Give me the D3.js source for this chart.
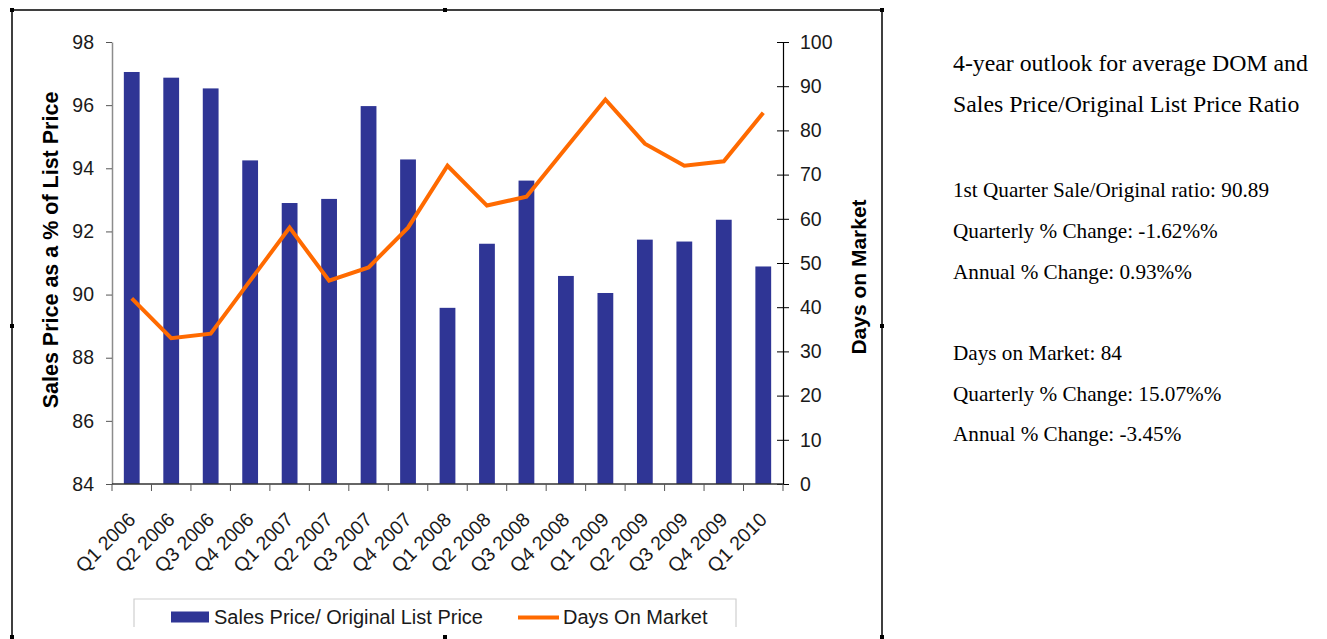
<!DOCTYPE html>
<html>
<head>
<meta charset="utf-8">
<script src="https://cdn.jsdelivr.net/npm/d3@7/dist/d3.min.js"></script>
<style>
  body { margin: 0; background: #fff; }
  svg { display: block; }
</style>
</head>
<body>
<div id="chart"></div>
<script>
var quarters = ['Q1 2006', 'Q2 2006', 'Q3 2006', 'Q4 2006', 'Q1 2007', 'Q2 2007', 'Q3 2007', 'Q4 2007',
  'Q1 2008', 'Q2 2008', 'Q3 2008', 'Q4 2008', 'Q1 2009', 'Q2 2009', 'Q3 2009', 'Q4 2009', 'Q1 2010'];
var priceRatio = [97.05, 96.87, 96.53, 94.25, 92.9, 93.03, 95.97, 94.28,
  89.58, 91.61, 93.61, 90.59, 90.05, 91.74, 91.68, 92.37, 90.89];
var daysOnMarket = [42, 33, 34, 46, 58, 46, 49, 58, 72, 63, 65, 76, 87, 77, 72, 73, 84];
var leftTicks = [84, 86, 88, 90, 92, 94, 96, 98];
var rightTicks = [0, 10, 20, 30, 40, 50, 60, 70, 80, 90, 100];
var seriesNames = ['Sales Price/ Original List Price', 'Days On Market'];
var sideTitle = ['4-year outlook for average DOM and', 'Sales Price/Original List Price Ratio'];
var sideLines = [
  ['1st Quarter Sale/Original ratio: 90.89', 'Quarterly % Change: -1.62%%', 'Annual % Change: 0.93%%'],
  ['Days on Market: 84', 'Quarterly % Change: 15.07%%', 'Annual % Change: -3.45%']
];

var W = 1327, H = 639;
var sans = '"Liberation Sans", Arial, sans-serif';
var serif = '"Liberation Serif", "Times New Roman", serif';
var blue = '#2f3595', orange = '#ff6a00';

var svg = d3.select('#chart').append('svg').attr('width', W).attr('height', H);

// frame round the chart object, with its little handles
var fx0 = 12, fx1 = 882, fy0 = 10, fy1 = 639;
svg.append('path')
  .attr('d', 'M' + fx0 + ',' + fy1 + 'V' + fy0 + 'H' + fx1 + 'V' + fy1)
  .attr('fill', 'none').attr('stroke', '#000').attr('stroke-width', 1.5);
var handles = [[fx0, fy0], [445, fy0], [fx1, fy0], [fx0, 326], [fx1, 326], [fx0, 637], [445, 637], [fx1, 637]];
svg.append('g').selectAll('rect').data(handles).enter().append('rect')
  .attr('x', function(d) { return d[0] - 2; })
  .attr('y', function(d) { return d[1] - 2; })
  .attr('width', 4).attr('height', 4).attr('fill', '#000');

// plot area (don't call these top/left, window.top is taken)
var plotL = 112, plotR = 783, plotT = 42, plotB = 484;

var x = d3.scaleBand().domain(quarters).range([plotL, plotR]);
var yL = d3.scaleLinear().domain([84, 98]).range([plotB, plotT]);
var yR = d3.scaleLinear().domain([0, 100]).range([plotB, plotT]);

// bars
var barW = x.bandwidth() * 0.4;
svg.append('g').selectAll('rect')
  .data(priceRatio)
  .enter()
  .append('rect')
  .attr('x', function(d, i) { return x(quarters[i]) + (x.bandwidth() - barW) / 2; })
  .attr('y', function(d) { return yL(d); })
  .attr('width', barW)
  .attr('height', function(d) { return plotB - yL(d); })
  .attr('fill', blue);

// left axis
var gL = svg.append('g').attr('transform', 'translate(' + plotL + ',0)')
  .call(d3.axisLeft(yL).tickValues(leftTicks).tickSize(6).tickPadding(12).tickSizeOuter(0));
gL.select('.domain').attr('stroke', '#8c8c8c').attr('stroke-width', 1.5);
gL.selectAll('.tick line').attr('stroke', '#555');
gL.selectAll('text').attr('font-family', sans).attr('font-size', 19.5).attr('fill', '#1a1a1a');

// right axis, ticks crossing the line
var gR = svg.append('g').attr('transform', 'translate(' + plotR + ',0)')
  .call(d3.axisRight(yR).tickValues(rightTicks).tickSize(6).tickPadding(11).tickSizeOuter(0));
gR.select('.domain').attr('stroke', '#000').attr('stroke-width', 1.2);
gR.selectAll('.tick line').attr('x1', -6).attr('stroke', '#000');
gR.selectAll('text').attr('font-family', sans).attr('font-size', 19.5).attr('fill', '#1a1a1a');

// category axis
var gX = svg.append('g').attr('transform', 'translate(0,' + plotB + ')');
gX.append('line').attr('x1', plotL).attr('x2', plotR).attr('stroke', '#333').attr('stroke-width', 1.5);
gX.selectAll('line.tk')
  .data(quarters.concat(['end']))
  .enter()
  .append('line')
  .attr('class', 'tk')
  .attr('x1', function(d, i) { return plotL + i * x.step(); })
  .attr('x2', function(d, i) { return plotL + i * x.step(); })
  .attr('y1', 0).attr('y2', 7)
  .attr('stroke', '#555');
gX.selectAll('text')
  .data(quarters)
  .enter()
  .append('text')
  .attr('transform', function(d) {
    return 'translate(' + (x(d) + x.bandwidth() / 2) + ',32) rotate(-45)';
  })
  .attr('text-anchor', 'end')
  .attr('dy', '0.35em')
  .attr('font-family', sans).attr('font-size', 19.5).attr('fill', '#1a1a1a')
  .text(function(d) { return d; });

// line
var line = d3.line()
  .x(function(d, i) { return x(quarters[i]) + x.bandwidth() / 2; })
  .y(function(d) { return yR(d); });
svg.append('path')
  .datum(daysOnMarket)
  .attr('d', line)
  .attr('fill', 'none')
  .attr('stroke', orange)
  .attr('stroke-width', 4)
  .attr('stroke-linejoin', 'miter');

// axis titles
svg.append('text')
  .attr('transform', 'translate(58,250) rotate(-90)')
  .attr('text-anchor', 'middle')
  .attr('font-family', sans).attr('font-weight', 'bold').attr('font-size', 21.5)
  .text('Sales Price as a % of List Price');
svg.append('text')
  .attr('transform', 'translate(866,277) rotate(-90)')
  .attr('text-anchor', 'middle')
  .attr('font-family', sans).attr('font-weight', 'bold').attr('font-size', 21)
  .text('Days on Market');

// legend (box runs off the bottom of the chart area)
var lg = svg.append('g');
lg.append('path')
  .attr('d', 'M134,627V599H736V627')
  .attr('fill', 'none').attr('stroke', '#cfcfcf').attr('stroke-width', 1.2);
lg.append('rect').attr('x', 171).attr('y', 611.5).attr('width', 38).attr('height', 11).attr('fill', blue);
lg.append('text').attr('x', 214).attr('y', 624)
  .attr('font-family', sans).attr('font-size', 20).attr('fill', '#1a1a1a')
  .text(seriesNames[0]);
lg.append('line').attr('x1', 518).attr('x2', 559).attr('y1', 617.5).attr('y2', 617.5)
  .attr('stroke', orange).attr('stroke-width', 4);
lg.append('text').attr('x', 563).attr('y', 624)
  .attr('font-family', sans).attr('font-size', 20).attr('fill', '#1a1a1a')
  .text(seriesNames[1]);

// side notes
var notes = svg.append('g').attr('font-family', serif).attr('fill', '#000');
notes.selectAll('text.title')
  .data(sideTitle)
  .enter()
  .append('text')
  .attr('class', 'title')
  .attr('x', 953)
  .attr('y', function(d, i) { return 70.5 + i * 41; })
  .attr('font-size', 23.8)
  .text(function(d) { return d; });
sideLines.forEach(function(block, b) {
  notes.selectAll('text.b' + b)
    .data(block)
    .enter()
    .append('text')
    .attr('class', 'b' + b)
    .attr('x', 953)
    .attr('y', function(d, i) { return 197.3 + b * 162.7 + i * 40.7; })
    .attr('font-size', 21.2)
    .text(function(d) { return d; });
});
</script>
</body>
</html>
